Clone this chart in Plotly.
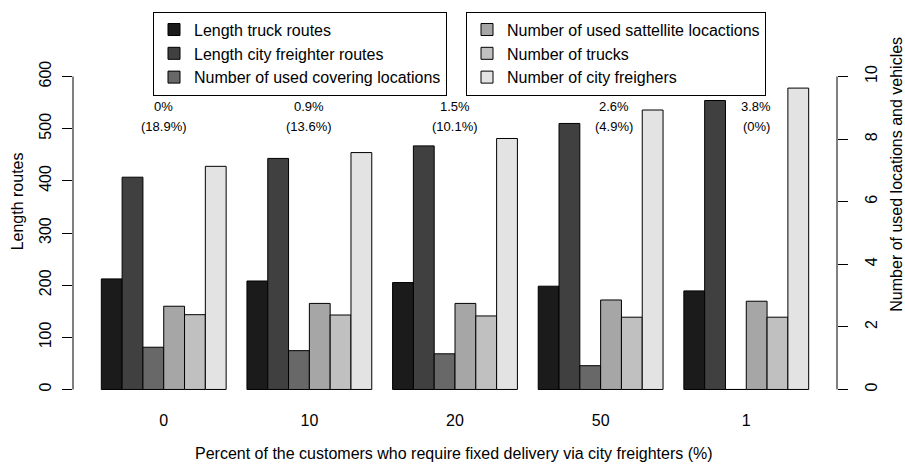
import plotly.graph_objects as go

# Scenarios: share of customers requiring fixed delivery via city freighters (%)
categories = ["0", "10", "20", "50", "1"]

# Route lengths (left axis)
length_truck_routes = [212, 208, 205, 198, 189]
length_city_freighter_routes = [407, 443, 467, 510, 554]

# Counts (right axis)
used_covering_locations = [1.35, 1.24, 1.14, 0.76, 0.0]
used_satellite_locations = [2.66, 2.75, 2.75, 2.86, 2.82]
number_of_trucks = [2.39, 2.38, 2.35, 2.31, 2.31]
number_of_city_freighters = [7.13, 7.57, 8.02, 8.93, 9.63]

# Labels printed above each group
upper_labels = ["0%", "0.9%", "1.5%", "2.6%", "3.8%"]
lower_labels = ["(18.9%)", "(13.6%)", "(10.1%)", "(4.9%)", "(0%)"]

FONT = "Liberation Sans, Arial, Helvetica, sans-serif"

series = [
    ("Length truck routes", length_truck_routes, "#1b1b1b", "y", "legend"),
    ("Length city freighter routes", length_city_freighter_routes, "#404040", "y", "legend"),
    ("Number of used covering locations", used_covering_locations, "#686868", "y2", "legend"),
    ("Number of used sattellite locactions", used_satellite_locations, "#a6a6a6", "y2", "legend2"),
    ("Number of trucks", number_of_trucks, "#c0c0c0", "y2", "legend2"),
    ("Number of city freighers", number_of_city_freighters, "#e3e3e3", "y2", "legend2"),
]

fig = go.Figure()
for i, (name, vals, color, yax, leg) in enumerate(series):
    fig.add_trace(go.Bar(
        x=categories, y=vals, name=name, yaxis=yax, legend=leg,
        marker=dict(color=color, line=dict(color="black", width=1)),
        alignmentgroup="all", offsetgroup=str(i),
        hoverinfo="skip",
    ))

W, H = 905, 466
L, R, T, B = 73, 68, 60, 64
pw, ph = W - L - R, H - T - B


def px_x(px):
    return (px - L) / pw


def px_y(py):
    # py measured from the top of the page
    return (H - B - py) / ph


# group label positions (category index) for the annotations
label_x = [0.0, 1.0, 2.0, 3.09, 4.07]
annotations = []
for xi, top, bot in zip(label_x, upper_labels, lower_labels):
    annotations.append(dict(x=xi, y=543, xref="x", yref="y", text=top, showarrow=False,
                            xanchor="center", yanchor="middle",
                            font=dict(size=13, family=FONT, color="black")))
    annotations.append(dict(x=xi, y=505, xref="x", yref="y", text=bot, showarrow=False,
                            xanchor="center", yanchor="middle",
                            font=dict(size=13, family=FONT, color="black")))

# axis titles
title_font = dict(size=16, family=FONT, color="black")
annotations += [
    dict(text="Length routes", x=px_x(17), y=px_y(199), xref="paper", yref="paper",
         showarrow=False, textangle=-90, xanchor="center", yanchor="middle", font=title_font),
    dict(text="Percent of the customers who require fixed delivery via city freighters (%)",
         x=px_x(453.5), y=px_y(454), xref="paper", yref="paper", showarrow=False,
         xanchor="center", yanchor="middle", font=title_font),
    dict(text="Number of used locations and vehicles", x=px_x(897), y=px_y(171),
         xref="paper", yref="paper", showarrow=False, textangle=-90,
         xanchor="center", yanchor="middle", font=title_font),
]

fig.update_layout(
    width=W, height=H,
    margin=dict(l=L, r=R, t=T, b=B),
    paper_bgcolor="white", plot_bgcolor="white",
    font=dict(family=FONT, size=16, color="black"),
    barmode="group", bargap=1 / 7, bargroupgap=0,
    xaxis=dict(type="category", range=[-0.623, 4.623], showline=False, showgrid=False,
               zeroline=False, ticks="", tickfont=dict(size=16), ticklabelstandoff=7),
    yaxis=dict(range=[-24, 624], tickvals=[0, 100, 200, 300, 400, 500, 600],
               showgrid=False, zeroline=False, showline=False, ticks="outside",
               ticklen=10, tickwidth=1, tickcolor="black", tickangle=-90,
               tickfont=dict(size=16), ticklabelstandoff=5),
    yaxis2=dict(range=[-0.4, 10.4], tickvals=[0, 2, 4, 6, 8, 10], overlaying="y", side="right",
                showgrid=False, zeroline=False, showline=False, ticks="outside",
                ticklen=10, tickwidth=1, tickcolor="black", tickangle=-90,
                tickfont=dict(size=16), ticklabelstandoff=10),
    legend=dict(x=px_x(153), y=px_y(7), xanchor="left", yanchor="top",
                bordercolor="black", borderwidth=1, font=dict(size=16),
                traceorder="normal", bgcolor="white"),
    legend2=dict(x=px_x(466), y=px_y(7), xanchor="left", yanchor="top",
                 bordercolor="black", borderwidth=1, font=dict(size=16),
                 traceorder="normal", bgcolor="white"),
    annotations=annotations,
    shapes=[
        dict(type="line", xref="paper", yref="y", x0=0, x1=0, y0=0, y1=600,
             line=dict(color="black", width=1)),
        dict(type="line", xref="paper", yref="y2", x0=1, x1=1, y0=0, y1=10,
             line=dict(color="black", width=1)),
    ],
)

fig.write_html("out.html")
